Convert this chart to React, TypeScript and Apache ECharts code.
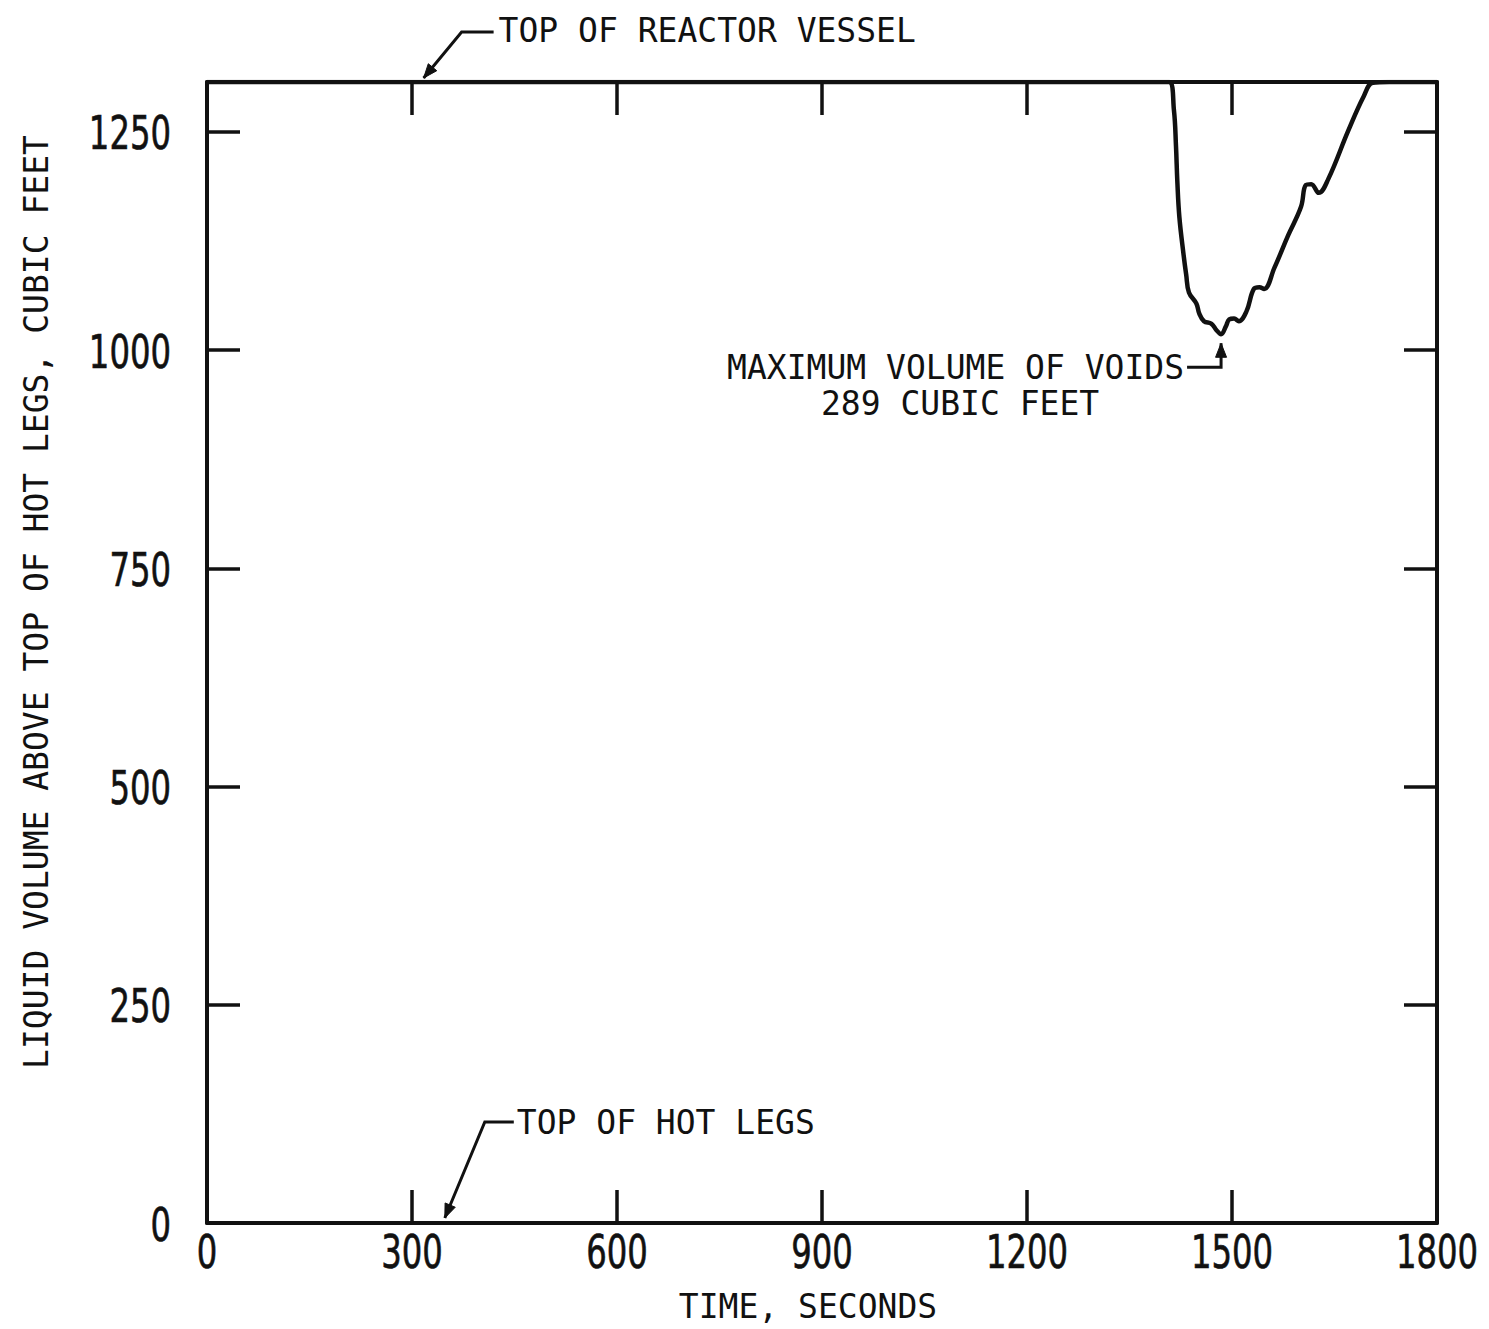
import React, { useEffect, useRef } from "react";
import * as echarts from "echarts";

// Reactor vessel liquid inventory above the hot-leg tops
const VESSEL_TOP = 1307; // cubic feet at top of reactor vessel
const MAX_VOIDS = 289; // cubic feet, deepest void
const timeSeconds = [
  0, 1380, 1408, 1415, 1418, 1420, 1423, 1429, 1433, 1437, 1448, 1452, 1459, 1470, 1477, 1484,
  1491, 1496, 1503, 1510, 1521, 1532, 1540, 1547, 1562, 1582, 1601, 1608, 1616, 1627, 1641,
  1670, 1693, 1706, 1730, 1800,
];
const liquidVolume = [
  1307, 1307, 1307, 1275, 1234, 1193, 1152, 1110, 1086, 1066, 1053, 1042, 1033, 1030, 1023, 1018,
  1027, 1035, 1036, 1033, 1044, 1070, 1072, 1070, 1094, 1131, 1164, 1189, 1190, 1180, 1196,
  1251, 1291, 1306, 1307, 1307,
];
const xTickLabels = [0, 300, 600, 900, 1200, 1500, 1800];
const yTickLabels = [0, 250, 500, 750, 1000, 1250];
const VESSEL_ARROW_T = 317; // seconds, where the vessel-top pointer lands
const HOT_LEG_ARROW_T = 348; // seconds, where the hot-leg pointer lands

const MONO = "'DejaVu Sans Mono', 'Liberation Mono', monospace";
const NARROW = "'DejaVu Sans Condensed', 'DejaVu Sans', sans-serif";
const INK = "#111";

function arrowHead(tip: number[], from: number[], len = 14, half = 5.5) {
  const dx = tip[0] - from[0];
  const dy = tip[1] - from[1];
  const d = Math.hypot(dx, dy) || 1;
  const ux = dx / d;
  const uy = dy / d;
  const bx = tip[0] - ux * len;
  const by = tip[1] - uy * len;
  return [
    [tip[0], tip[1]],
    [bx - uy * half, by + ux * half],
    [bx + uy * half, by - ux * half],
  ];
}

export default function App() {
  const ref = useRef<HTMLDivElement>(null);

  useEffect(() => {
    if (!ref.current) return;
    const chart = echarts.init(ref.current, undefined, { renderer: "svg" });

    const tickStyle = { show: true, inside: true, length: 33, lineStyle: { color: INK, width: 3.5 } };
    const lineStyle = { show: true, onZero: false, lineStyle: { color: INK, width: 4 } };

    const points = timeSeconds.map((t, i) => [t, liquidVolume[i]]);

    const xAxisBase = {
      type: "value",
      min: 0,
      max: 1800,
      interval: 300,
      axisLine: lineStyle,
      axisTick: tickStyle,
      splitLine: { show: false },
      axisLabel: { show: false },
    };
    const yAxisBase = {
      type: "value",
      min: 0,
      max: VESSEL_TOP,
      interval: 250,
      axisLine: lineStyle,
      axisTick: tickStyle,
      splitLine: { show: false },
      axisLabel: { show: false },
    };

    chart.setOption({
      animation: false,
      backgroundColor: "#ffffff",
      grid: { left: 207, right: 52, top: 82, bottom: 106, containLabel: false },
      xAxis: [
        { ...xAxisBase, position: "bottom" },
        { ...xAxisBase, position: "top" },
      ],
      yAxis: [
        { ...yAxisBase, position: "left" },
        { ...yAxisBase, position: "right" },
      ],
      series: [
        {
          type: "line",
          xAxisIndex: 0,
          yAxisIndex: 0,
          data: points,
          showSymbol: false,
          symbol: "none",
          smooth: 0.4,
          lineStyle: { color: INK, width: 4.5 },
          z: 3,
        },
      ],
    });

    const px = (t: number, v: number) =>
      chart.convertToPixel({ xAxisIndex: 0, yAxisIndex: 0 }, [t, v]) as number[];

    // tick labels in narrow lettering, placed from the axis scales
    const tickLabel = (t: string, x: number, y: number, align: string) => ({
      type: "text",
      x,
      y,
      scaleX: 0.78,
      z: 10,
      style: {
        text: t,
        fill: INK,
        font: `46px ${NARROW}`,
        textAlign: align,
        textVerticalAlign: "middle",
        verticalAlign: "middle",
        stroke: INK,
        lineWidth: 0.6,
      },
    });
    const xLabels = xTickLabels.map((v) => {
      const [x, y] = px(v, 0);
      return tickLabel(String(v), x, y + 29, "center");
    });
    const yLabels = yTickLabels.map((v) => {
      const [x, y] = px(0, v);
      return tickLabel(String(v), x - 36, y + 2, "right");
    });

    // pointer to the deepest void
    const minV = VESSEL_TOP - MAX_VOIDS;
    const minIdx = liquidVolume.indexOf(minV);
    const [mx, my] = px(timeSeconds[minIdx], minV);
    const voidTip = [mx, my + 9];
    const voidElbow = [mx, my + 33];
    const voidEnd = [mx - 34, my + 33];

    // pointer to top of reactor vessel
    const [vx, vy] = px(VESSEL_ARROW_T, VESSEL_TOP);
    const vesselTip = [vx, vy - 4];
    const vesselElbow = [vx + 38, 32];
    const vesselEnd = [vx + 70, 32];

    // pointer to top of hot legs
    const [hx, hy] = px(HOT_LEG_ARROW_T, 0);
    const hotTip = [hx, hy - 5];
    const hotElbow = [hx + 40, 1122];
    const hotEnd = [hx + 69, 1122];

    const text = (t: string, x: number, y: number, align = "left", extra: any = {}, size = 33) => ({
      type: "text",
      x,
      y,
      z: 10,
      style: {
        text: t,
        fill: INK,
        font: `${size}px ${MONO}`,
        textAlign: align,
        textVerticalAlign: "middle",
        verticalAlign: "middle",
      },
      ...extra,
    });
    const poly = (pts: number[][]) => ({
      type: "polyline",
      z: 10,
      shape: { points: pts },
      style: { stroke: INK, lineWidth: 3, fill: "none" },
    });
    const head = (pts: number[][]) => ({
      type: "polygon",
      z: 10,
      shape: { points: pts },
      style: { fill: INK, stroke: INK, lineWidth: 1 },
    });

    chart.setOption({
      graphic: [
        ...xLabels,
        ...yLabels,

        text("TOP OF REACTOR VESSEL", vesselEnd[0] + 5, 30),
        poly([vesselEnd, vesselElbow, vesselTip]),
        head(arrowHead(vesselTip, vesselElbow)),

        text("TOP OF HOT LEGS", hotEnd[0] + 3, 1122),
        poly([hotEnd, hotElbow, hotTip]),
        head(arrowHead(hotTip, hotElbow)),

        text("MAXIMUM VOLUME OF VOIDS", voidEnd[0] - 3, my + 33, "right"),
        text(`${MAX_VOIDS} CUBIC FEET`, mx - 261, my + 69, "center"),
        poly([voidEnd, voidElbow, voidTip]),
        head(arrowHead(voidTip, voidElbow)),

        text("TIME, SECONDS", 808, 1306, "center"),
        text("LIQUID VOLUME ABOVE TOP OF HOT LEGS, CUBIC FEET", 36, 602, "center", {
          rotation: Math.PI / 2,
        }),
      ],
    });

    return () => chart.dispose();
  }, []);

  return (
    <div
      ref={ref}
      style={{ position: "absolute", left: 0, top: 0, width: 1489, height: 1329, background: "#fff" }}
    />
  );
}
